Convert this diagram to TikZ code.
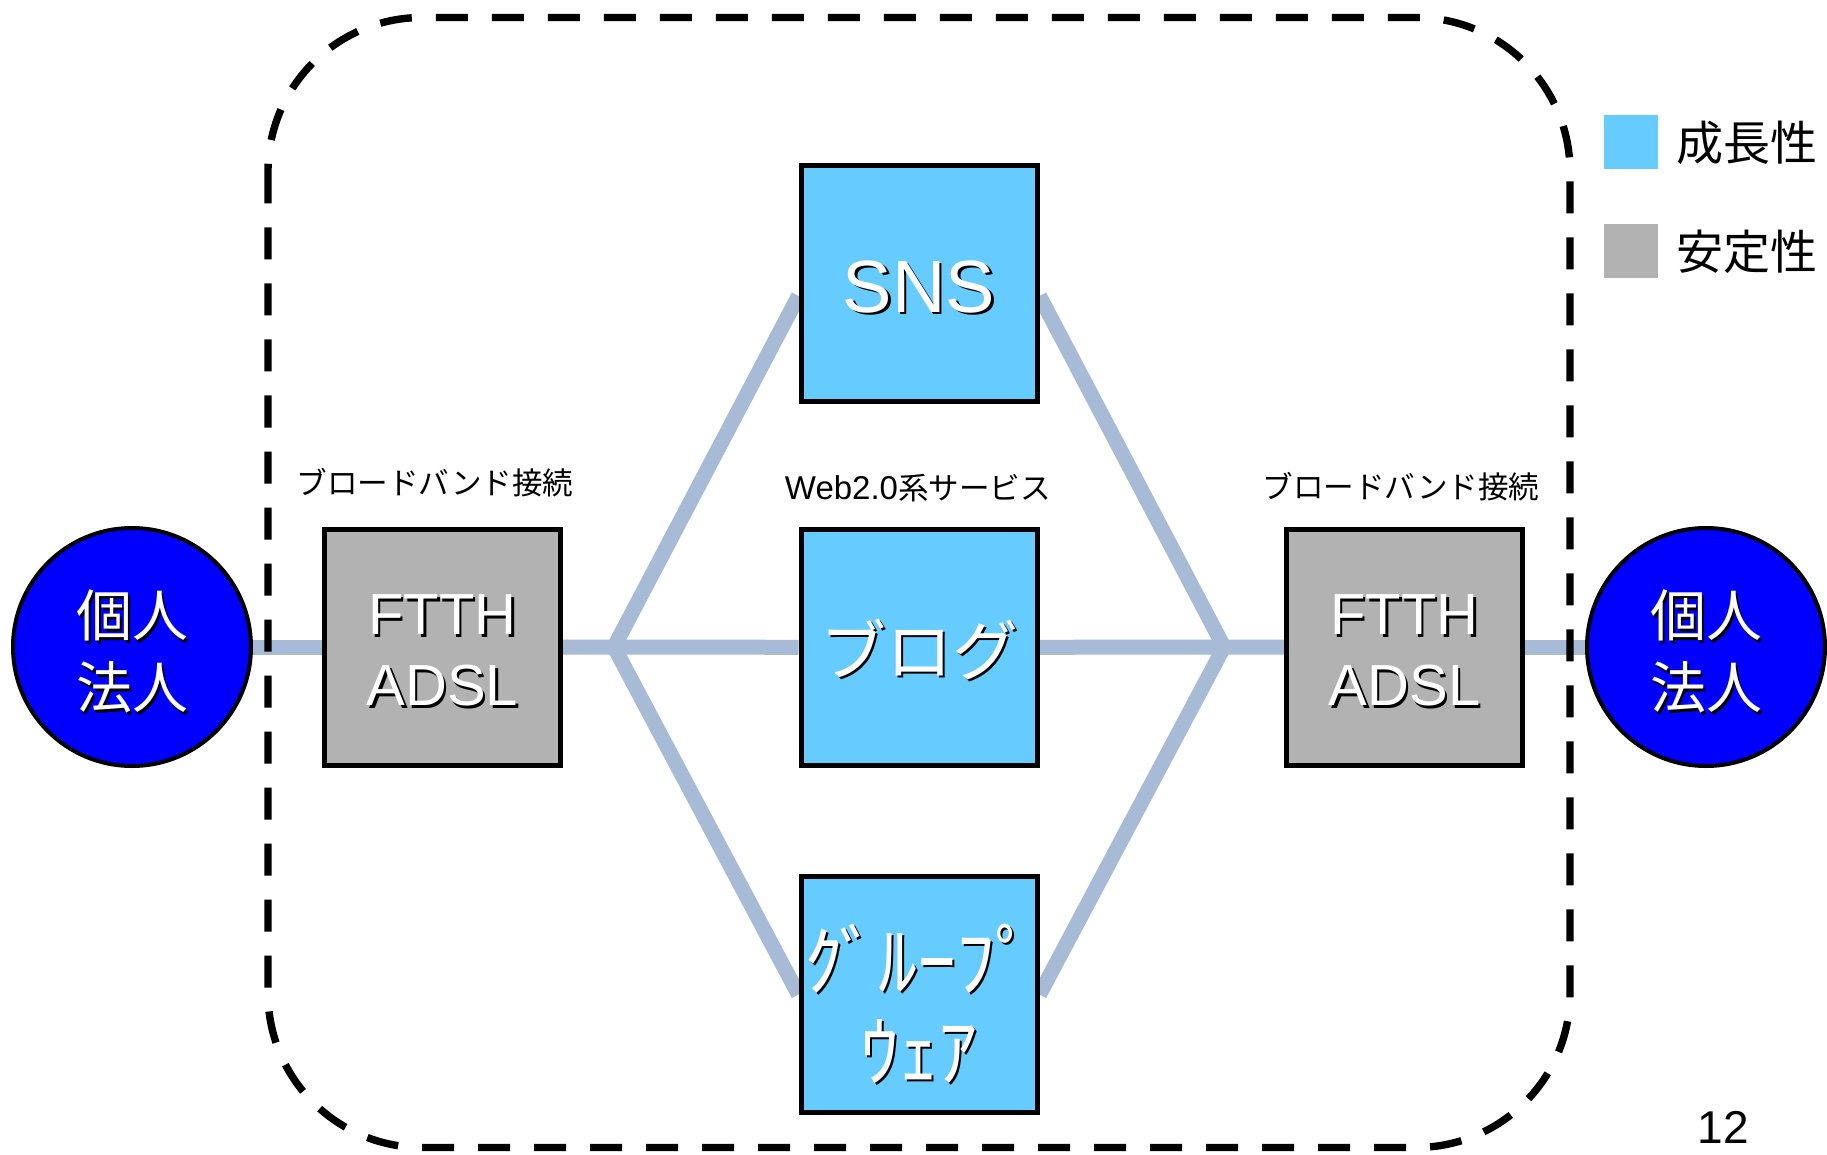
\documentclass[tikz,border=0pt]{standalone}
\usepackage{fontspec}
\setmainfont{Liberation Sans}
\newfontfamily\jp{Noto Sans CJK JP}
\usetikzlibrary{calc}
\definecolor{growth}{RGB}{102,204,255}
\definecolor{stable}{RGB}{178,178,178}
\definecolor{userblue}{RGB}{0,0,255}
\definecolor{linkblue}{RGB}{167,186,214}
% white text with a small black drop shadow, lowered by #1 without changing its box
\newcommand{\shd}[2]{\raisebox{#1}[\height][\depth]{\leavevmode\rlap{\kern1.2pt\raisebox{-1.2pt}{\color{black}#2}}{\color{white}#2}}}
\pgfdeclarelayer{bg}
\pgfsetlayers{bg,main}
\begin{document}
\begin{tikzpicture}[x=0.5pt,y=-0.5pt,
  box/.style={draw=black,line width=2.5pt,minimum size=118pt,inner sep=0pt,align=center},
  svc/.style={box,fill=growth},
  net/.style={box,fill=stable,font=\fontsize{29}{35.5}\selectfont},
  party/.style={circle,draw=black,line width=2pt,fill=userblue,minimum size=119pt,inner sep=0pt,align=center,font=\jp\fontsize{28}{36}\selectfont},
  link/.style={draw=linkblue,line width=7.5pt,line join=miter},
  caption/.style={font=\jp\fontsize{15.3}{18}\selectfont,inner sep=0pt},
  legendsq/.style={minimum size=27pt,inner sep=0pt},
  legendtxt/.style={font=\jp\fontsize{23.5}{28}\selectfont,inner sep=0pt},
  border/.style={draw=black,line width=3.7pt,dash pattern=on 16pt off 12pt,rounded corners=77pt},
]
\useasboundingbox (0,0) rectangle (1827,1155);

% end users
\node[party] (pL) at (132,647) {\shd{-3pt}{個人}\\\shd{-3pt}{法人}};
\node[party] (pR) at (1706,647) {\shd{-3pt}{個人}\\\shd{-3pt}{法人}};

% broadband access
\node[net] (ftthL) at (442.5,647) {\shd{-2.5pt}{FTTH}\\\shd{-2.5pt}{ADSL}};
\node[net] (ftthR) at (1404.5,647) {\shd{-2.5pt}{FTTH}\\\shd{-2.5pt}{ADSL}};

% Web 2.0 services
\node[svc,font=\fontsize{37}{40}\selectfont] (sns) at (919,284) {\shd{-2pt}{SNS}};
\node[svc,font=\jp\fontsize{33}{40}\selectfont] (blog) at (919,647.5) {\shd{-1.5pt}{ブログ}};
\node[svc,font=\jp\fontsize{39}{45}\selectfont] (gw) at (919,994.5) {\shd{-5pt}{ｸ\kern-2pt ﾞﾙｰﾌﾟ}\\\shd{-5pt}{ｳｪｱ}};

% junction points
\coordinate (hubL) at (614,647);
\coordinate (hubR) at (1224,647);

% captions
\node[caption] (capL) at (435,483) {ブロードバンド接続};
\node[caption] (capR) at (1401,487) {ブロードバンド接続};
\node[caption] (capW) at (918,488) {{\rmfamily\fontsize{16.5}{18}\selectfont Web2.0}系サービス};

% legend
\node[legendsq,fill=growth] (lgG) at (1630.5,142) {};
\node[legendsq,fill=stable] (lgS) at (1630.5,251.5) {};
\node[legendtxt] (lgGt) at (1747,143) {成長性};
\node[legendtxt] (lgSt) at (1747,252) {安定性};

% page number
\node[inner sep=0pt,font=\fontsize{23}{26}\selectfont] (pg) at (1723,1127) {12};

% background and connections
\begin{pgfonlayer}{bg}
\fill[white] (0,0) rectangle (1827,1155);
\draw[link] (pL) -- (ftthL);
\draw[link] (ftthL) -- (hubL) -- (blog);
\draw[link] ($(sns.west)+(0,12)$) -- (hubL) -- (gw.west);
\draw[link] (blog) -- (hubR) -- (ftthR);
\draw[link] ($(sns.east)+(0,12)$) -- (hubR) -- (gw.east);
\draw[link] (ftthR) -- (pR);
\end{pgfonlayer}

% service area
\draw[border] (268,17.5) rectangle (1570,1147.5);
\end{tikzpicture}
\end{document}
